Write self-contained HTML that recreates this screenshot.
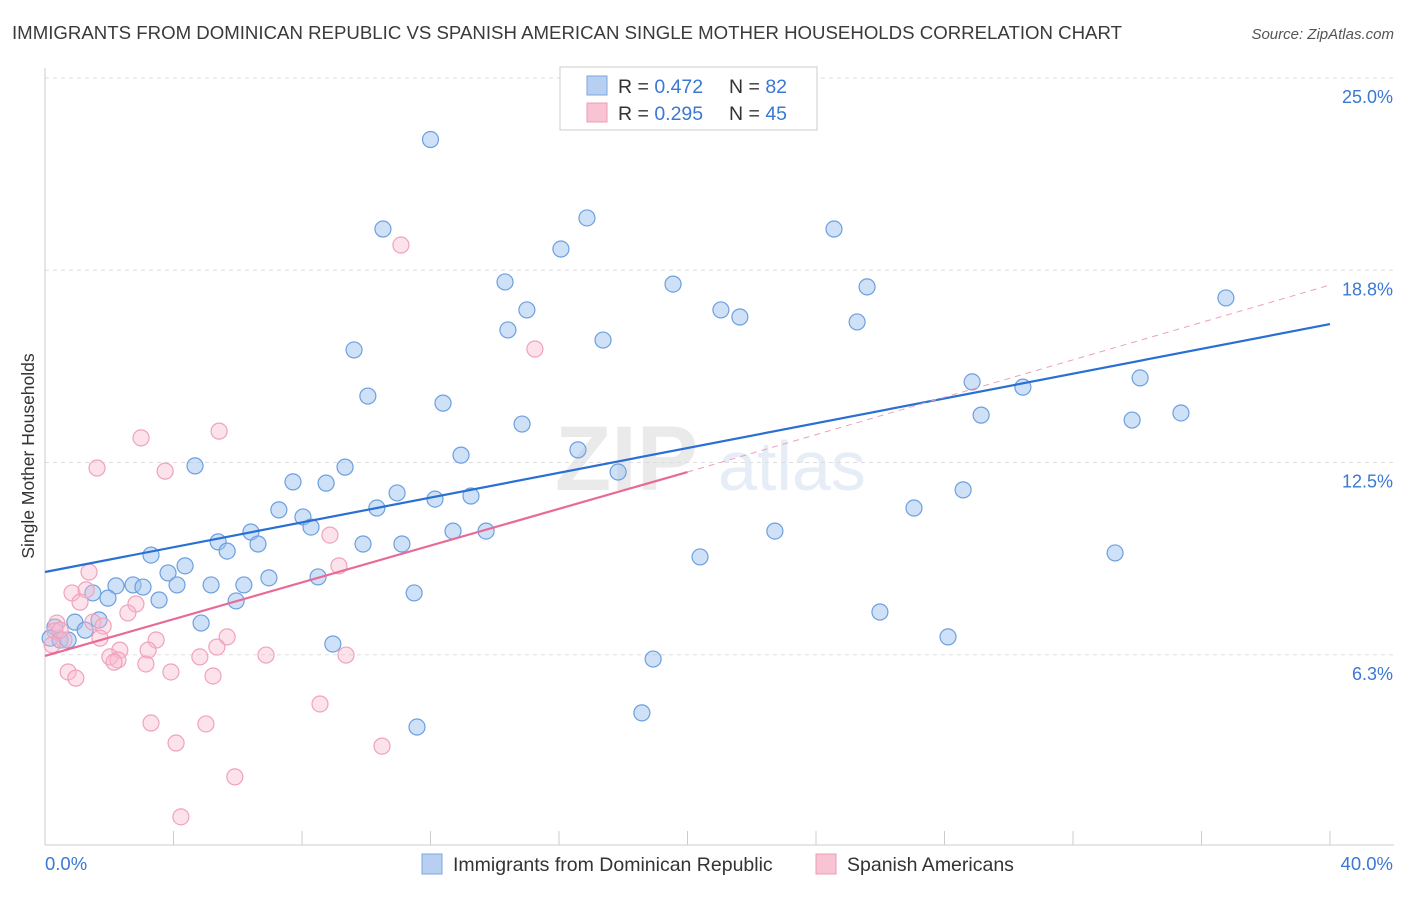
<!DOCTYPE html>
<html><head><meta charset="utf-8">
<style>
body{margin:0;background:#fff;font-family:"Liberation Sans",sans-serif;}
svg text{font-family:"Liberation Sans",sans-serif;}
</style></head>
<body>
<svg id="chart" width="1406" height="892" xmlns="http://www.w3.org/2000/svg">
<text x="12" y="39" font-size="18" fill="#3a3a3a" textLength="1110" lengthAdjust="spacingAndGlyphs">IMMIGRANTS FROM DOMINICAN REPUBLIC VS SPANISH AMERICAN SINGLE MOTHER HOUSEHOLDS CORRELATION CHART</text>
<text x="1394" y="39" font-size="15" font-style="italic" fill="#555" text-anchor="end">Source: ZipAtlas.com</text>
<text transform="translate(34,456) rotate(-90)" font-size="17.5" fill="#333" text-anchor="middle">Single Mother Households</text>
<g opacity="0.35">
<text x="555" y="490" font-size="92" font-family="Liberation Serif" font-weight="bold" fill="#c4c4c4">ZIP</text>
<text x="718" y="490" font-size="70" fill="#b8cce8">atlas</text>
</g>
<g id="grid"></g>
<g id="axes"></g>
<g id="pts"></g>
<g id="trend"></g>
<g>
<rect x="560" y="67" width="257" height="63" fill="#fff" stroke="#ccc"/>
<rect x="587" y="76" width="20" height="19" fill="#b7d0f2" stroke="#7aa6e0"/>
<text x="618" y="93" font-size="19.5" fill="#333">R = <tspan fill="#3a78d4">0.472</tspan></text>
<text x="729" y="93" font-size="19.5" fill="#333">N = <tspan fill="#3a78d4">82</tspan></text>
<rect x="587" y="103" width="20" height="19" fill="#f8c4d4" stroke="#ee9cb6"/>
<text x="618" y="120" font-size="19.5" fill="#333">R = <tspan fill="#3a78d4">0.295</tspan></text>
<text x="729" y="120" font-size="19.5" fill="#333">N = <tspan fill="#3a78d4">45</tspan></text>
</g>
<g>
<rect x="422" y="854" width="20" height="20" fill="#b7d0f2" stroke="#7aa6e0"/>
<text x="453" y="871" font-size="19.5" fill="#333">Immigrants from Dominican Republic</text>
<rect x="816" y="854" width="20" height="20" fill="#f8c4d4" stroke="#ee9cb6"/>
<text x="847" y="871" font-size="19.5" fill="#333">Spanish Americans</text>
</g>
</svg>
<script>
const blueX=[12.0,10.52,16.87,16.06,24.56,14.32,19.55,25.59,36.76,15.0,21.04,21.63,14.41,25.28,17.37,9.62,10.05,12.39,28.86,30.44,34.09,29.14,33.84,35.36,14.85,16.59,12.95,17.84,4.67,9.34,7.72,8.75,10.96,12.14,13.26,10.33,7.28,8.03,8.28,28.58,27.05,12.7,13.73,22.72,6.41,9.9,11.11,5.39,6.63,5.67,3.3,33.31,20.39,4.36,3.83,6.97,8.5,2.21,2.74,3.05,4.11,5.17,6.19,1.49,1.96,3.55,5.95,11.49,25.99,4.86,0.93,1.68,1.25,0.31,0.16,0.47,0.72,8.96,28.11,18.93,18.58,11.58];
const blueY=[23.0,20.09,20.45,19.44,20.09,18.37,18.3,18.21,17.85,17.46,17.46,17.23,16.81,17.07,16.48,16.16,14.66,14.43,15.12,14.95,15.25,14.04,13.88,14.11,13.75,12.91,12.74,12.19,12.39,12.35,11.87,11.83,11.51,11.31,11.41,11.02,10.96,10.73,10.4,11.61,11.02,10.27,10.27,10.27,10.24,9.85,9.85,9.92,9.85,9.62,9.49,9.56,9.43,9.14,8.91,8.75,8.78,8.49,8.52,8.45,8.52,8.52,8.52,8.26,8.09,8.03,8.0,8.26,7.64,7.28,7.31,7.38,7.05,7.15,6.79,6.73,6.73,6.6,6.83,6.11,4.36,3.9];
const pinkX=[11.08,15.25,5.42,2.99,1.62,3.74,8.87,9.15,1.37,0.84,1.28,1.09,2.83,2.58,1.49,1.81,0.37,0.31,0.59,1.71,3.46,5.67,0.22,2.33,3.21,5.35,9.37,6.88,2.02,2.27,4.82,2.15,3.14,0.72,0.96,3.92,5.23,8.56,3.3,5.01,4.08,10.49,5.91,4.23,0.47];
const pinkY=[19.57,16.19,13.52,13.3,12.32,12.22,10.14,9.14,8.94,8.26,8.36,7.96,7.9,7.61,7.31,7.18,7.28,7.02,6.73,6.79,6.73,6.83,6.57,6.4,6.4,6.5,6.24,6.24,6.18,6.08,6.18,6.01,5.95,5.69,5.49,5.69,5.56,4.65,4.03,4.0,3.38,3.28,2.28,0.98,7.05];
const yTicks=[6.25,12.5,18.75,25];
const yTickLabels=["6.3%","12.5%","18.8%","25.0%"];
const xTickCount=10;
const blueTrend=[[0,8.94],[40,17.0]];
const pinkTrend=[[0,6.21],[20,12.19],[40,18.27]];
const NS="http://www.w3.org/2000/svg";
const sx=v=>45+v/40*1285;
const sy=v=>847-v*30.76;
function mk(t,a,p){const e=document.createElementNS(NS,t);for(const k in a)e.setAttribute(k,a[k]);p.appendChild(e);return e;}
const grid=document.getElementById('grid'),axes=document.getElementById('axes'),pts=document.getElementById('pts'),trend=document.getElementById('trend');
yTicks.forEach((t,i)=>{
 const l=mk('line',{x1:45,x2:1394,y1:sy(t),y2:sy(t),stroke:'#ddd','stroke-dasharray':'4,4'},grid);
 
 
 const tx=mk('text',{x:1393,y:sy(t)+25,'font-size':18,fill:'#3a78d4','text-anchor':'end'},axes);
 tx.textContent=yTickLabels[i];
 
 
});
let a=mk('line',{x1:45,x2:45,y1:68,y2:845,stroke:'#ccc'},axes);

a=mk('line',{x1:45,x2:1394,y1:845,y2:845,stroke:'#ccc'},axes);

for(let i=0;i<=xTickCount;i++){
 const t=mk('line',{x1:sx(i*4),x2:sx(i*4),y1:831,y2:845,stroke:'#ccc'},axes);
 
 
}
let xl=mk('text',{x:45,y:870,'font-size':18.5,fill:'#3a78d4'},axes);xl.textContent='0.0%';

xl=mk('text',{x:1393,y:870,'font-size':18.5,fill:'#3a78d4','text-anchor':'end'},axes);xl.textContent='40.0%';

blueX.forEach((x,i)=>{
 const c=mk('circle',{cx:sx(x),cy:sy(blueY[i]),r:8,fill:'rgba(160,195,240,0.5)',stroke:'#6c9fe0','stroke-width':1.2},pts);
 
 
});
pinkX.forEach((x,i)=>{
 const c=mk('circle',{cx:sx(x),cy:sy(pinkY[i]),r:8,fill:'rgba(248,185,205,0.4)',stroke:'#f0a2bc','stroke-width':1.2},pts);
 
 
});
let t=mk('line',{x1:sx(blueTrend[0][0]),y1:sy(blueTrend[0][1]),x2:sx(blueTrend[1][0]),y2:sy(blueTrend[1][1]),stroke:'#2a6fd4','stroke-width':2.2},trend);

t=mk('line',{x1:sx(pinkTrend[0][0]),y1:sy(pinkTrend[0][1]),x2:sx(pinkTrend[1][0]),y2:sy(pinkTrend[1][1]),stroke:'#e86a96','stroke-width':2.2},trend);

t=mk('line',{x1:sx(pinkTrend[1][0]),y1:sy(pinkTrend[1][1]),x2:sx(pinkTrend[2][0]),y2:sy(pinkTrend[2][1]),stroke:'#eca0ba','stroke-width':1,'stroke-dasharray':'6,5'},trend);

</script>
</body></html>
